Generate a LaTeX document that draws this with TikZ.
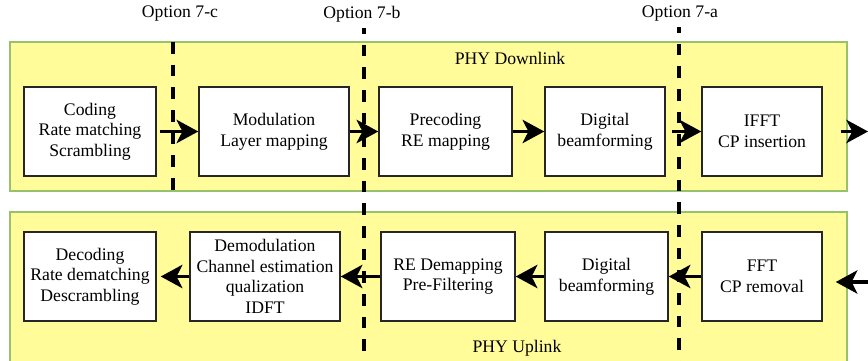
\documentclass[tikz,border=0pt]{standalone}
\usepackage{fontspec}
\setmainfont{Liberation Serif}
\usetikzlibrary{arrows.meta}
\definecolor{phyfill}{HTML}{FFFC99}
\definecolor{phyedge}{HTML}{97C26B}

\begin{document}
\begin{tikzpicture}[x=0.6pt, y=-0.6pt,
  blk/.style={draw=black!85, line width=0.9pt, fill=white, align=center,
    minimum height=53.4pt, inner sep=1pt, font=\fontsize{10.6}{12.4}\selectfont},
  panel/.style={draw=phyedge, line width=0.9pt, fill=phyfill},
  split/.style={line width=2.4pt, dash pattern=on 7pt off 6.6pt},
  flow/.style={line width=2pt, -{Stealth[length=13pt, width=14pt, inset=3.5pt]}},
  lbl/.style={font=\fontsize{10.6}{12.4}\selectfont}]
\clip (0,0) rectangle (868,361);
% the two PHY panels
\draw[panel] (10,42) rectangle (847,191);
\draw[panel] (10,212) rectangle (847,366);
\node[lbl] (dl) at (510,58) {PHY Downlink};
\node[lbl] (ul) at (517,348) {PHY Uplink};
% split options
\node[lbl] (opc) at (180,14) {Option 7-c};
\node[lbl] (opb) at (362,14) {Option 7-b};
\node[lbl] (opa) at (680,14) {Option 7-a};
\draw[split] (173,42) -- (173,191);
\draw[split, dash phase=3.6pt] (364,28) -- (364,361);
\draw[split, dash phase=3.6pt] (679,27) -- (679,361);
% downlink chain
\node[blk, minimum width=79.2pt] (cod) at (90,131.5) {Coding\\Rate matching\\Scrambling};
\node[blk, minimum width=90pt] (mod) at (274,131.5) {Modulation\\Layer mapping};
\node[blk, minimum width=79.8pt] (pre) at (445.5,131.5) {Precoding\\RE mapping};
\node[blk, minimum width=72pt] (dbf) at (605,131.5) {Digital\\beamforming};
\node[blk, minimum width=72pt] (ifft) at (762,131.5) {IFFT\\CP insertion};
\coordinate (dlout) at (868,131.5);
\draw[flow, shorten <=1.8pt] (cod) -- (mod);
\draw[flow] (mod) -- (pre);
\draw[flow] (pre) -- (dbf);
\draw[flow, shorten <=3.6pt] (dbf) -- (ifft);
\draw[flow, shorten <=10.8pt] (ifft) -- (dlout);
% uplink chain
\node[blk, minimum width=79.2pt] (dec) at (90,276.5) {Decoding\\Rate dematching\\Descrambling};
\node[blk, minimum width=90pt] (dem) at (265,276.5) {Demodulation\\Channel estimation\\qualization\\IDFT};
\node[blk, minimum width=80.4pt] (rde) at (448,276.5) {RE Demapping\\Pre-Filtering};
\node[blk, minimum width=73.8pt] (dbu) at (606.5,276.5) {Digital\\beamforming};
\node[blk, minimum width=72pt] (fft) at (762,276.5) {FFT\\CP removal};
\coordinate (ulin) at (868,282);
\draw[flow, shorten >=7.8pt] (ulin) -- (ulin -| fft.east);
\draw[flow] (fft) -- (dbu);
\draw[flow] (dbu) -- (rde);
\draw[flow] (rde) -- (dem);
\draw[flow, shorten >=2.4pt] (dem) -- (dec);
\end{tikzpicture}
\end{document}
